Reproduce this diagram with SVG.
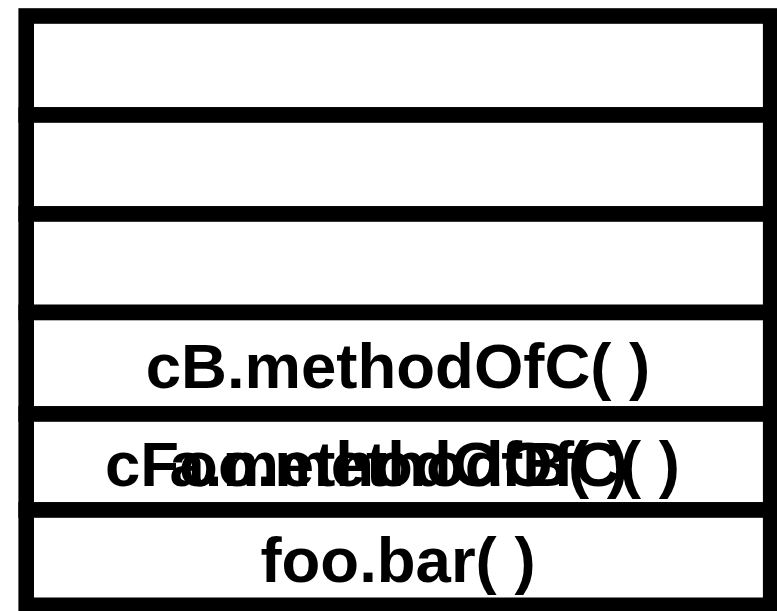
<svg xmlns="http://www.w3.org/2000/svg" width="777" height="611" viewBox="0 0 777 611">
  <style>
    .frame { fill: #ffffff; stroke: #000000; stroke-width: 15.6; }
    .label { font-family: "Liberation Sans", Arial, sans-serif; font-weight: bold; font-size: 63.5px; fill: #000000; }
  </style>
  <rect width="777" height="611" fill="#ffffff"/>
  <!-- call stack, top frame first -->
  <g id="frame1"><rect class="frame" x="26.2" y="16" width="744.5" height="99"/></g>
  <g id="frame2"><rect class="frame" x="26.2" y="115" width="744.5" height="99"/></g>
  <g id="frame3"><rect class="frame" x="26.2" y="214" width="744.5" height="98.5"/></g>
  <g id="frame4">
    <rect class="frame" x="26.2" y="312.5" width="744.5" height="101.5"/>
    <text class="label" x="398" y="388" text-anchor="middle">cB.methodOfC( )</text>
  </g>
  <g id="frame5">
    <rect class="frame" x="26.2" y="414" width="744.5" height="96"/>
    <text class="label" x="105" y="486">cFoo.methodOfC( )</text>
    <text class="label" x="628" y="486" text-anchor="end">a.methodOfB( )</text>
  </g>
  <g id="frame6">
    <rect class="frame" x="26.2" y="510" width="744.5" height="95.3"/>
    <text class="label" x="398" y="582" text-anchor="middle">foo.bar( )</text>
  </g>
  <g id="connectors"/>
</svg>
